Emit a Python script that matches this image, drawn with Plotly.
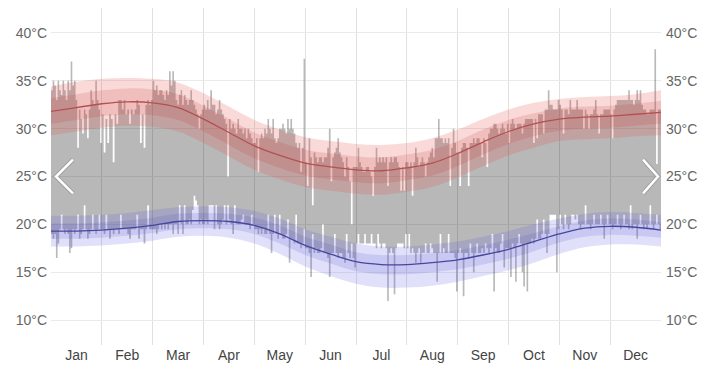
import plotly.graph_objects as go

# ---- calendar ------------------------------------------------------------
MONTHS = ["Jan", "Feb", "Mar", "Apr", "May", "Jun",
          "Jul", "Aug", "Sep", "Oct", "Nov", "Dec"]
MONTH_DAYS = [31, 28, 31, 30, 31, 30, 31, 31, 30, 31, 30, 31]
Y_TICKS = [10, 15, 20, 25, 30, 35, 40]

# ---- daily highs (°C) ----------------------------------------------------
jan_hi = [34, 35, 34.5, 33, 35, 34, 33.5, 35, 34, 33, 35, 34, 37, 34.5, 35, 33,
          28, 32, 31, 29.5, 32, 31.5, 29, 32, 34, 33, 32.5, 35, 33, 32, 28.5]
feb_hi = [31.5, 27.5, 31, 28.5, 31.5, 31, 26.5, 31.5, 30.5, 33, 33, 32, 33, 31.5,
          32, 30.5, 32, 31.5, 32, 33, 32.5, 28.5, 31.5, 28, 32.5, 33, 32.5, 33]
mar_hi = [35, 34, 34.5, 33.5, 34, 34, 33.5, 33, 34, 33.5, 36, 34.5, 36, 35, 33,
          32.5, 33.5, 34, 32.5, 33.5, 33, 32.5, 33, 34, 33, 32.5, 32, 31.5, 30, 31.5, 32]
apr_hi = [32.5, 32, 33, 32, 34, 32.5, 32.5, 31.5, 32, 33, 32, 31.5, 31, 30.5, 25,
          31, 30, 30.5, 30, 29.5, 31, 30, 30, 29.5, 30, 29, 30, 29.5, 29, 28.5]
may_hi = [28.5, 29, 25.5, 29, 29.5, 29, 30, 29.5, 31, 30, 29.5, 31, 29, 28.5, 29,
          30, 30, 30.5, 30, 29.5, 31, 30, 31, 30, 29.5, 28.5, 28, 28.5, 25.5, 28, 37.3]
jun_hi = [26.5, 24, 29, 27, 22, 27.5, 27, 26.5, 27, 27, 26.5, 27, 27, 28, 30,
          24.5, 27, 27.5, 28, 29, 27.5, 27, 26.5, 25, 27, 26, 24.5, 20, 26, 26]
jul_hi = [26, 28, 26.5, 26, 25.5, 25.5, 26, 26, 25.5, 25, 23, 26, 28, 26.5, 27,
          26.5, 27, 26.5, 27, 24, 26.5, 27, 26.5, 27, 27, 26.5, 26, 23.5, 26, 23.5, 26.5]
aug_hi = [26.5, 26, 26.5, 23, 26.5, 28, 27, 26, 26.5, 27, 26.5, 25, 26.5, 27, 27.5,
          28, 27, 29, 29, 31, 29, 29, 28.5, 29, 28.5, 29, 24, 28, 30, 28.5, 27.5]
sep_hi = [27.5, 24, 28, 28.5, 28.5, 28, 24, 28.5, 28.5, 29, 28.5, 29, 29, 28.5, 27,
          29, 28.5, 26, 29.5, 30, 30, 30.5, 30.5, 30, 29.5, 30, 30.5, 30, 29.5, 30.5]
oct_hi = [28.5, 30.5, 31, 30.5, 30, 30.5, 30.5, 30.5, 29.5, 30.5, 31, 31, 31, 31, 31,
          28.5, 31, 29, 31.5, 31.5, 31.5, 29.5, 32, 32, 34, 32.5, 32.5, 32, 32, 32, 33]
nov_hi = [32.5, 32, 29.5, 32, 32, 31.5, 33, 32, 32, 32, 33, 32, 32, 32, 30,
          32, 31.5, 30, 31.5, 31.5, 32, 33, 31.5, 29.5, 31.5, 31.5, 32, 32, 32, 32]
dec_hi = [31.5, 29, 32, 32.5, 33, 33, 33, 33, 33, 33, 33, 34, 33, 33, 32.5, 33,
          34, 33, 34, 32.5, 32, 32, 31.5, 31.5, 32, 32, 32, 38.3, 26.3, 32, 32]

# ---- daily lows (°C) -----------------------------------------------------
jan_lo = [19, 18.5, 19, 16.5, 18, 19.5, 21, 19.5, 19, 19.5, 19, 17, 17.5, 19.5, 19,
          19.5, 21, 18.5, 19, 19.5, 22, 19.5, 18.5, 19, 19.5, 21, 19.5, 19, 19.5, 21, 19.5]
feb_lo = [19.5, 19, 21, 19.5, 18.5, 19.5, 19, 19.5, 19.5, 19, 21, 19.5, 19.5, 19.5,
          19, 18.5, 19.5, 19.5, 19.5, 21, 18.5, 19.5, 19.5, 18, 19.5, 22, 19.5, 19.5]
mar_lo = [19.5, 19.5, 19, 19.5, 20, 19.5, 20, 19.5, 20, 19.5, 20, 20, 19, 20, 20,
          19, 22, 20, 19, 22, 20, 20, 20.5, 20, 21.5, 23, 22.5, 22, 20, 20.5, 20]
apr_lo = [20, 20.5, 20, 22, 22, 22, 19.5, 22, 20, 19.5, 20, 20.5, 22, 20, 22,
          20.5, 20, 19, 22, 20, 20, 20, 20.5, 21, 20, 20, 20, 19.5, 21, 20]
may_lo = [19.5, 19.5, 19, 19.5, 19, 19.5, 19, 19, 21, 19, 17, 19, 21, 19, 18.5,
          21, 19, 18.5, 18.5, 19, 20.5, 16, 18.5, 18.5, 18, 21, 18, 18, 17.5, 18, 19.5]
jun_lo = [17.5, 17.5, 17, 14.5, 19, 17, 17.5, 17, 17, 17.5, 20, 17, 17, 16.5, 14.5,
          17, 17, 19, 17, 16.5, 17, 17, 16.5, 16, 19, 17, 16.5, 18, 16.5, 15.5]
jul_lo = [18, 19, 18, 18, 18, 19, 18, 18, 18, 19, 18, 18, 17.5, 19, 18, 17.5,
          18, 18, 17.5, 12, 17, 17.5, 17, 12.7, 17.5, 18, 18, 18, 18, 17.5, 19]
aug_lo = [17.5, 19, 17, 17.5, 17, 16, 17, 17.5, 16, 17, 17, 18, 17, 17, 18, 17.5,
          17, 17, 14, 17, 19, 17, 17.5, 17, 17, 19, 17, 17, 17, 16.5, 13]
sep_lo = [17, 17.5, 17, 12.5, 17, 17, 16.5, 18, 17, 15, 17, 18, 17, 17, 17.5,
          17, 18, 17.5, 17, 17.5, 19, 13, 17.5, 17, 17, 18, 19, 15.5, 17.5, 17.5]
oct_lo = [17.5, 14.5, 18, 17.5, 14, 18, 19, 18, 15, 13.5, 18, 13, 18, 18, 18.5, 18,
          18.5, 20.5, 18.5, 18.5, 19, 20.5, 19, 17, 19, 21, 21, 21, 21, 15, 19.5]
nov_lo = [21, 20, 19.5, 21, 20, 19.5, 20, 21, 21, 20.5, 21, 20, 19.5, 20, 20,
          22, 20, 20, 19.5, 20, 21, 20, 20, 20, 21, 20, 18.5, 20, 21, 20]
dec_lo = [20, 19.5, 20, 20, 21, 20, 19.5, 20, 21, 20, 20, 19.5, 22, 19.5, 20, 20,
          18.5, 20, 21, 20, 19.5, 20, 19.5, 20, 22, 20, 19.5, 20, 21, 20, 19.5]

# ---- climatology, sampled at month starts and mid-months -----------------
clim_x = [0, 0.5, 1, 1.5, 2, 2.5, 3, 3.5, 4, 4.5, 5, 5.5, 6,
          6.5, 7, 7.5, 8, 8.5, 9, 9.5, 10, 10.5, 11, 11.5, 12]
avg_high = [31.8, 32.2, 32.6, 32.8, 32.7, 32.2, 31.0, 29.6, 28.2, 27.2, 26.4, 26.0, 25.7,
            25.6, 25.9, 26.4, 27.4, 28.6, 29.7, 30.5, 31.0, 31.2, 31.3, 31.5, 31.7]
high_p90 = [34.4, 34.9, 35.2, 35.3, 35.2, 34.8, 33.7, 32.3, 30.9, 29.9, 29.1, 28.7, 28.4,
            28.3, 28.5, 29.0, 29.9, 31.0, 32.0, 32.7, 33.1, 33.3, 33.4, 33.6, 34.0]
high_p75 = [33.2, 33.6, 34.0, 34.2, 34.1, 33.6, 32.4, 31.0, 29.6, 28.6, 27.8, 27.4, 27.1,
            27.0, 27.3, 27.8, 28.7, 29.9, 30.9, 31.6, 32.1, 32.3, 32.4, 32.6, 32.9]
high_p25 = [30.5, 30.9, 31.3, 31.5, 31.4, 30.9, 29.7, 28.3, 26.9, 25.9, 25.1, 24.7, 24.4,
            24.3, 24.6, 25.1, 26.1, 27.3, 28.4, 29.2, 29.8, 30.0, 30.1, 30.3, 30.5]
high_p10 = [29.3, 29.7, 30.1, 30.3, 30.2, 29.7, 28.5, 27.1, 25.7, 24.7, 23.9, 23.5, 23.2,
            23.1, 23.4, 23.9, 24.9, 26.1, 27.2, 28.0, 28.7, 28.9, 29.0, 29.2, 29.3]
avg_low = [19.3, 19.3, 19.4, 19.6, 19.9, 20.3, 20.4, 20.3, 19.9, 19.0, 17.8, 16.9, 16.1,
           15.8, 15.8, 16.0, 16.3, 16.8, 17.4, 18.2, 19.0, 19.6, 19.8, 19.7, 19.4]
low_p90 = [20.9, 20.9, 21.0, 21.2, 21.5, 21.8, 21.9, 21.8, 21.4, 20.6, 19.5, 18.7, 18.0,
           17.7, 17.7, 17.9, 18.2, 18.7, 19.3, 20.0, 20.6, 21.1, 21.3, 21.2, 21.0]
low_p75 = [20.1, 20.1, 20.2, 20.4, 20.7, 21.1, 21.2, 21.1, 20.7, 19.9, 18.7, 17.9, 17.1,
           16.8, 16.8, 17.0, 17.3, 17.8, 18.4, 19.1, 19.8, 20.4, 20.6, 20.5, 20.2]
low_p25 = [18.5, 18.5, 18.6, 18.8, 19.1, 19.5, 19.6, 19.5, 19.0, 18.0, 16.8, 15.9, 15.1,
           14.8, 14.8, 15.0, 15.3, 15.8, 16.4, 17.2, 18.1, 18.7, 18.9, 18.8, 18.6]
low_p10 = [17.7, 17.7, 17.8, 18.0, 18.3, 18.7, 18.8, 18.6, 18.0, 16.9, 15.6, 14.6, 13.8,
           13.4, 13.4, 13.6, 14.0, 14.6, 15.2, 16.0, 16.9, 17.6, 17.9, 17.9, 17.7]

daily_high = (jan_hi + feb_hi + mar_hi + apr_hi + may_hi + jun_hi +
              jul_hi + aug_hi + sep_hi + oct_hi + nov_hi + dec_hi)
daily_low = (jan_lo + feb_lo + mar_lo + apr_lo + may_lo + jun_lo +
             jul_lo + aug_lo + sep_lo + oct_lo + nov_lo + dec_lo)

# each day spans an equal share of its month on the x axis (months = 0..12)
day_left, day_right = [], []
for m, n in enumerate(MONTH_DAYS):
    for i in range(n):
        day_left.append(m + i / n)
        day_right.append(m + (i + 1) / n)

# daily range drawn as one stepped polygon: along the highs, back along the lows
poly_x, poly_y = [], []
for l, r, h in zip(day_left, day_right, daily_high):
    poly_x += [l, r]
    poly_y += [h, h]
for l, r, lo in reversed(list(zip(day_left, day_right, daily_low))):
    poly_x += [r, l]
    poly_y += [lo, lo]

fig = go.Figure()
fig.add_trace(go.Scatter(
    x=poly_x, y=poly_y, mode="lines", fill="toself",
    fillcolor="rgba(0,0,0,0.28)", line=dict(width=0),
    hoverinfo="skip", showlegend=False))


def add_band(lower, upper, color):
    fig.add_trace(go.Scatter(x=clim_x, y=lower, mode="lines",
                             line=dict(width=0, shape="spline"),
                             hoverinfo="skip", showlegend=False))
    fig.add_trace(go.Scatter(x=clim_x, y=upper, mode="lines", fill="tonexty",
                             fillcolor=color, line=dict(width=0, shape="spline"),
                             hoverinfo="skip", showlegend=False))


add_band(high_p10, high_p90, "rgba(230,80,80,0.22)")
add_band(high_p25, high_p75, "rgba(200,50,50,0.16)")
fig.add_trace(go.Scatter(x=clim_x, y=avg_high, mode="lines",
                         line=dict(color="rgb(180,80,80)", width=1.3, shape="spline"),
                         hoverinfo="skip", showlegend=False))

add_band(low_p10, low_p90, "rgba(90,90,230,0.19)")
add_band(low_p25, low_p75, "rgba(70,70,200,0.15)")
fig.add_trace(go.Scatter(x=clim_x, y=avg_low, mode="lines",
                         line=dict(color="rgb(70,70,160)", width=1.3, shape="spline"),
                         hoverinfo="skip", showlegend=False))

# right-hand copy of the temperature axis
fig.add_trace(go.Scatter(x=[None], y=[None], yaxis="y2",
                         hoverinfo="skip", showlegend=False))

# navigation chevrons
W, H = 612.0, 338.0
def px(xp):
    return (xp - 51) / W
def py(yp):
    return (346 - yp) / H

left_chev = f"M {px(73)},{py(160)} L {px(56)},{py(177)} L {px(73)},{py(194)}"
right_chev = f"M {px(645)},{py(160)} L {px(660)},{py(177)} L {px(645)},{py(194)}"
shapes = []
for p in (left_chev, right_chev):
    shapes.append(dict(type="path", path=p, xref="paper", yref="paper",
                       line=dict(color="rgb(160,160,160)", width=4.5)))
    shapes.append(dict(type="path", path=p, xref="paper", yref="paper",
                       line=dict(color="white", width=2.5)))

y_range = [7.4, 42.6]
y_text = [f"{t}°C" for t in Y_TICKS]

fig.update_layout(
    width=705, height=371,
    margin=dict(l=51, r=42, t=8, b=25),
    paper_bgcolor="white", plot_bgcolor="white",
    font=dict(family="Liberation Sans, Arial, sans-serif", size=14, color="#666"),
    shapes=shapes,
    xaxis=dict(
        range=[0, 12], showgrid=False, zeroline=False, showline=False,
        tickmode="array", tickvals=[m + 0.5 for m in range(12)], ticktext=MONTHS,
        ticks="", tickfont=dict(color="#444", size=14),
        minor=dict(tickmode="array", tickvals=list(range(1, 12)),
                   showgrid=True, gridcolor="#e0e0e0", gridwidth=1, ticks=""),
    ),
    yaxis=dict(
        range=y_range, tickmode="array", tickvals=Y_TICKS, ticktext=y_text,
        showgrid=True, gridcolor="#eaeaea", zeroline=False, showline=False,
        ticks="", ticklabelstandoff=3,
    ),
    yaxis2=dict(
        range=y_range, overlaying="y", side="right",
        tickmode="array", tickvals=Y_TICKS, ticktext=y_text,
        showgrid=False, zeroline=False, showline=False, ticks="",
        ticklabelstandoff=4,
    ),
)

fig.write_html("out.html")
